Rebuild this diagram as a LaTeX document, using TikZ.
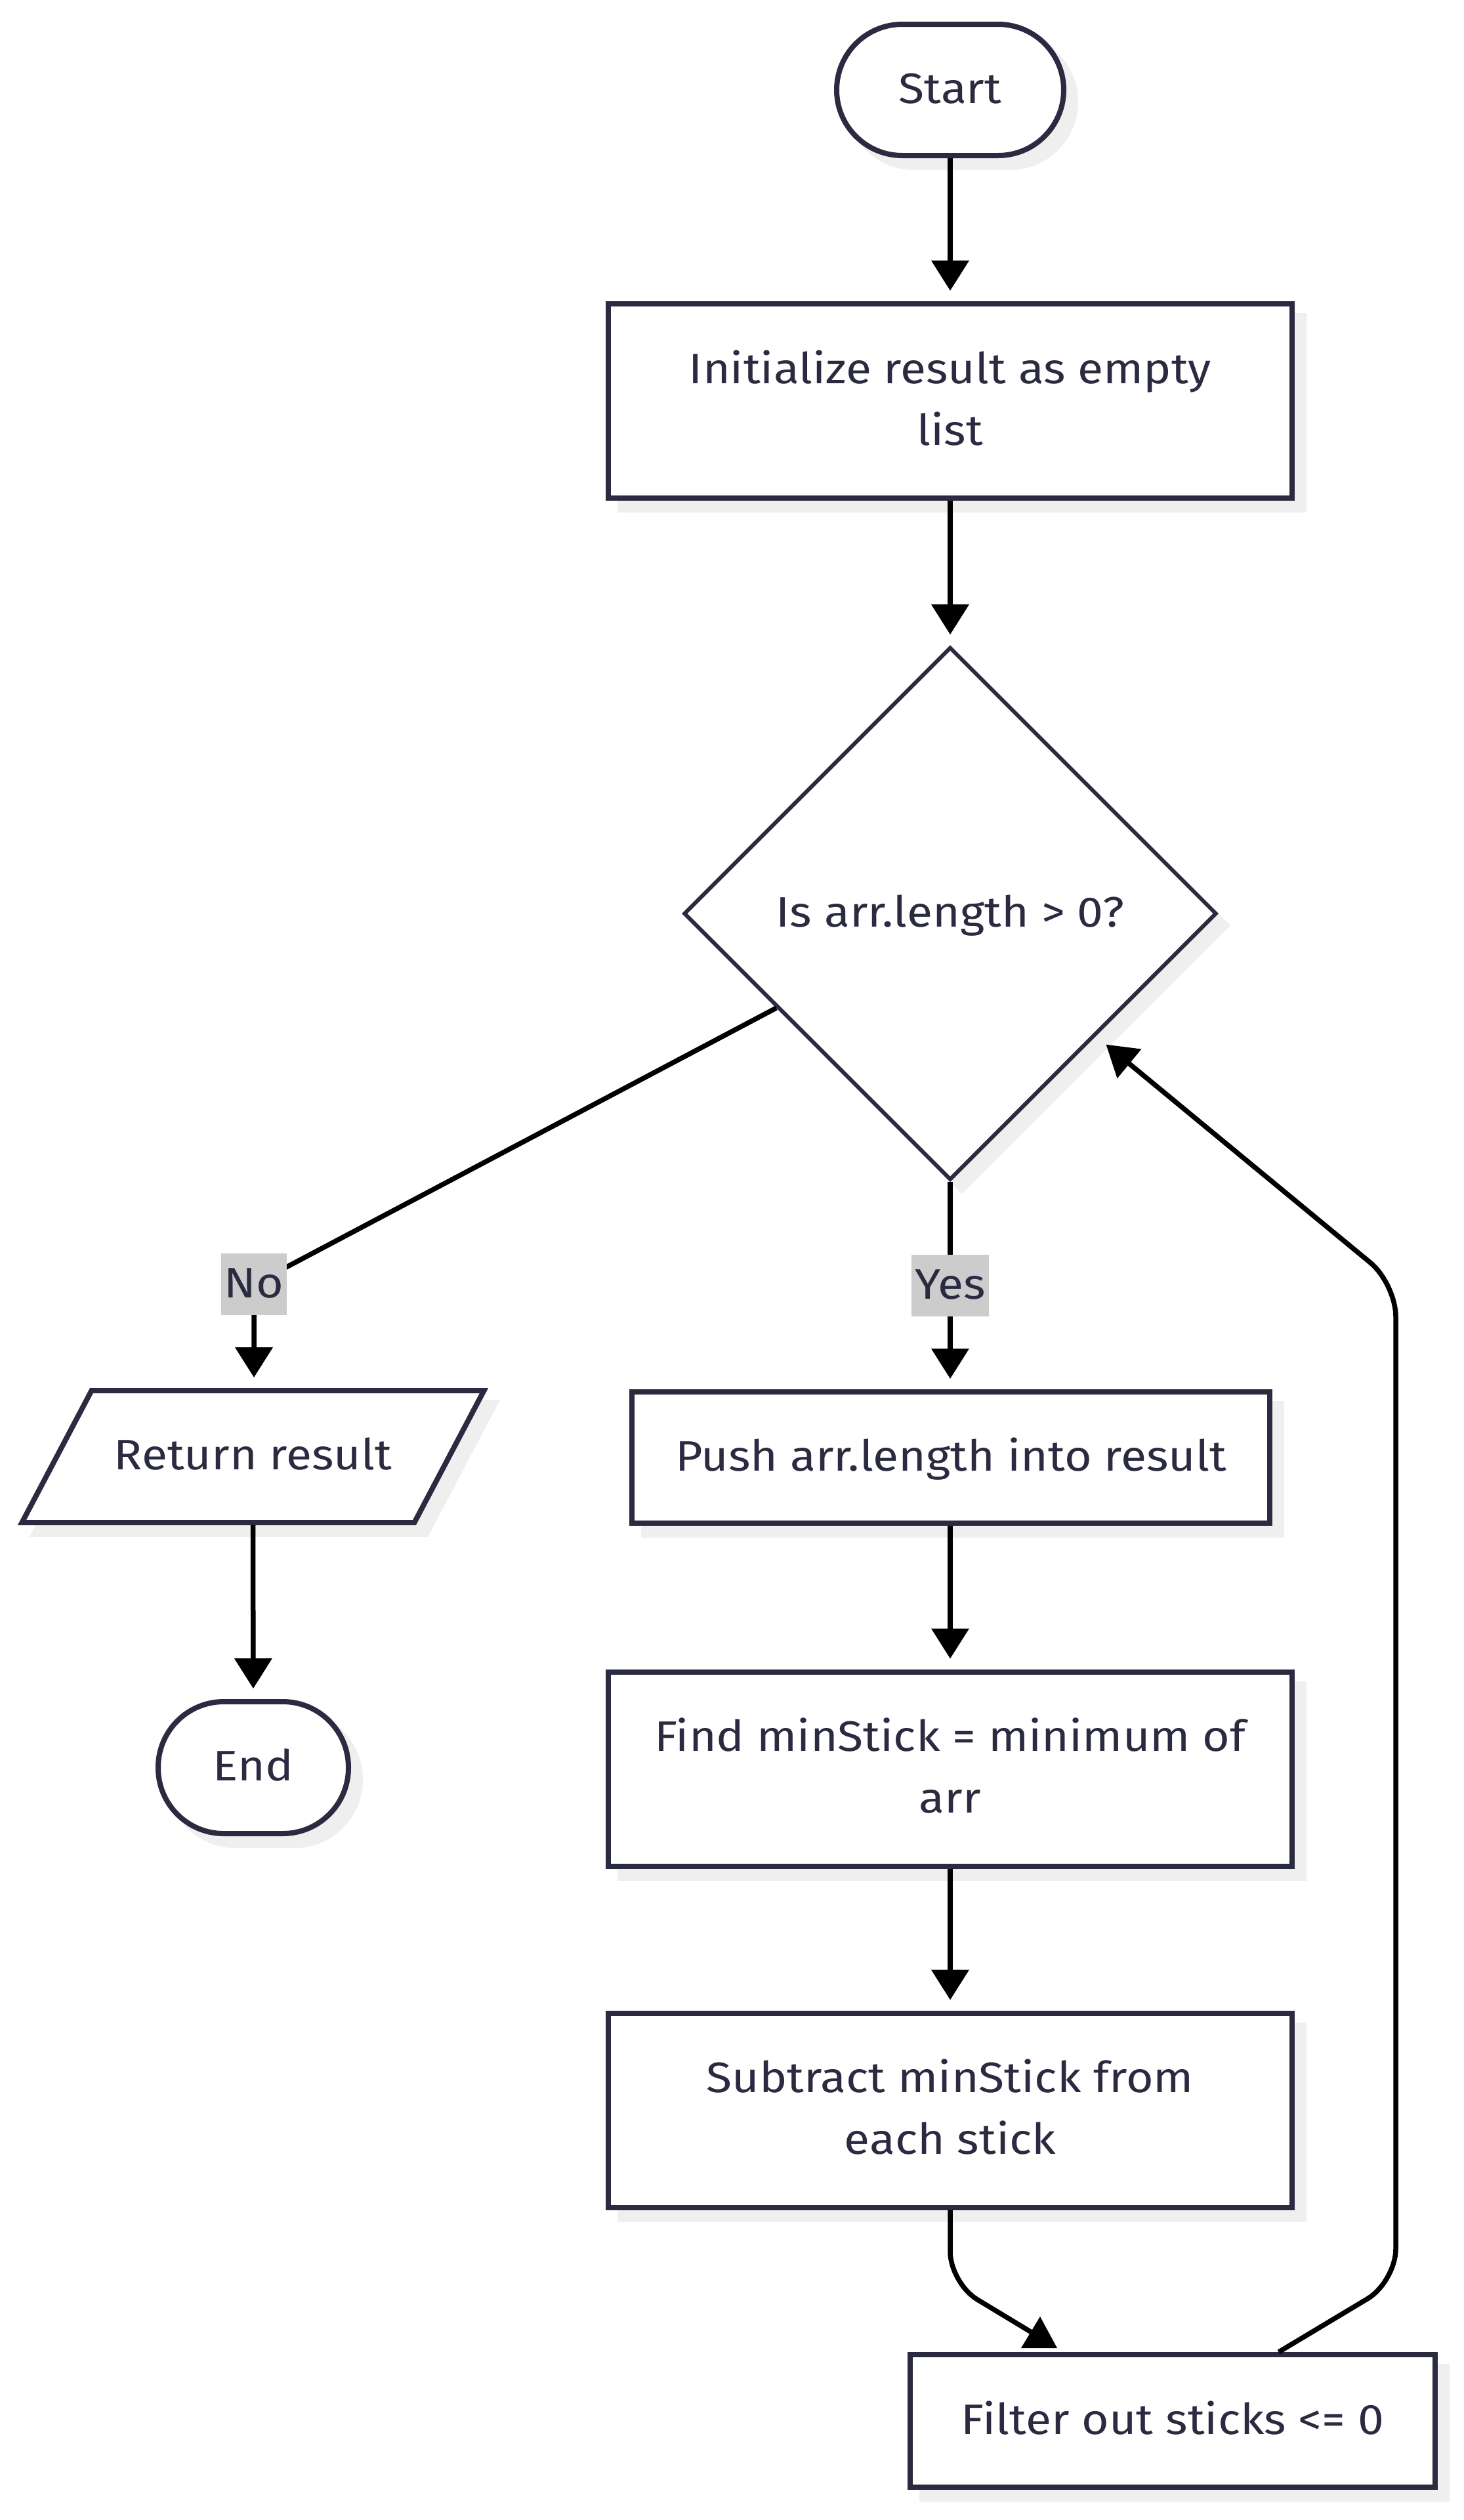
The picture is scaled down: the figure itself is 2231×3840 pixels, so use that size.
\documentclass[tikz,border=0pt]{standalone}
\usepackage{fontspec}
\setmainfont{Fira Sans}[FakeStretch=1.1]
\usetikzlibrary{arrows.meta,shapes.geometric,calc}
\definecolor{ink}{HTML}{2A2A40}
\definecolor{shadowgray}{HTML}{EFEFEF}
\definecolor{lblgray}{HTML}{CCCCCC}
\newcommand{\lnstrut}{\rule[-13.5pt]{0pt}{47pt}}
\pgfdeclarelayer{bg}
\pgfsetlayers{bg,main}
\begin{document}
\begin{tikzpicture}[x=0.5pt,y=-0.5pt,
  font=\fontsize{32.5pt}{47pt}\selectfont,
  proc/.style={draw=ink, line width=4pt, fill=white, rectangle, inner sep=0pt, align=center, text=ink},
  term/.style={proc, rounded corners=50pt},
  dia/.style={draw=ink, line width=3pt, fill=white, diamond, aspect=1, inner sep=0pt, text=ink},
  lbl/.style={fill=lblgray, inner xsep=2.5pt, inner ysep=0pt, text=ink},
  shadowfill/.style={fill=shadowgray, draw=none},
  edgeline/.style={draw=black, line width=3.75pt},
  edge/.style={edgeline, -{Triangle[length=23pt,width=28pt]}, shorten >=8pt}]
\useasboundingbox (0,0) rectangle (2231,3840);

% nodes
\node[term, minimum width=173pt, minimum height=100pt] (start) at (1448,137) {\lnstrut Start};
\node[proc, minimum width=521pt, minimum height=148pt] (init) at (1448,611) {\lnstrut Initialize result as empty\\\lnstrut list};
\node[dia, minimum width=406pt, minimum height=406pt] (dec) at (1448,1392) {\lnstrut Is arr.length > 0?};
\node[inner sep=0pt, outer sep=0pt, minimum width=300pt, minimum height=104.5pt, text=ink] (ret) at (385.5,2219.5) {\lnstrut Return result};
\node[proc, minimum width=486pt, minimum height=100pt] (push) at (1449,2221) {\lnstrut Push arr.length into result};
\node[term, minimum width=145pt, minimum height=100.5pt] (end) at (386,2693.5) {\lnstrut End};
\node[proc, minimum width=521pt, minimum height=148pt] (find) at (1448,2695.5) {\lnstrut Find minStick = minimum of\\\lnstrut arr};
\node[proc, minimum width=521pt, minimum height=148pt] (sub) at (1448,3215.5) {\lnstrut Subtract minStick from\\\lnstrut each stick};
\node[proc, minimum width=400pt, minimum height=101pt] (filt) at (1787,3689) {\lnstrut Filter out sticks <= 0};

% background layer: page, shadows, parallelogram
\begin{pgfonlayer}{bg}
\fill[white] (0,0) rectangle (2231,3840);
\path[shadowfill, rounded corners=52pt] ([shift={(18,18)}]start.north west) rectangle ([shift={(18,18)}]start.south east);
\path[shadowfill, rounded corners=52pt] ([shift={(18,18)}]end.north west) rectangle ([shift={(18,18)}]end.south east);
\foreach \n in {init,push,find,sub,filt}{
  \path[shadowfill] ([shift={(18,18)}]\n.north west) rectangle ([shift={(18,18)}]\n.south east);
}
\path[shadowfill] ([shift={(18,18)}]dec.north) -- ([shift={(18,18)}]dec.east) -- ([shift={(18,18)}]dec.south) -- ([shift={(18,18)}]dec.west) -- cycle;
\path[fill=shadowgray, draw=shadowgray, line width=4pt] ($(ret.center)+(-228,-82.5)$) -- ($(ret.center)+(370,-82.5)$) -- ($(ret.center)+(264,118.5)$) -- ($(ret.center)+(-334,118.5)$) -- cycle;
\path[draw=ink, fill=white, line width=4pt] ($(ret.center)+(-246,-100.5)$) -- ($(ret.center)+(352,-100.5)$) -- ($(ret.center)+(246,100.5)$) -- ($(ret.center)+(-352,100.5)$) -- cycle;
\end{pgfonlayer}

% edges
\draw[edge] (start) -- (init);
\draw[edge] (init) -- (dec);
\coordinate (nobend) at (387,1957);
\draw[edge] ($(dec.west)!0.352!(dec.south)$) -- (nobend) -- (nobend |- ret.north);
\draw[edge] (dec.south) -- (dec.south |- push.north) node[lbl, pos=0.5] {\lnstrut Yes};
\node[lbl] (nolbl) at (nobend) {\lnstrut No};
\draw[edge] (ret.south) -- (end.north);
\draw[edge] (find.north |- push.south) -- (find.north);
\draw[edge] (find) -- (sub);
\coordinate (sfcorner) at (1447,3479);
\coordinate (sfend) at (1572,3554);
\draw[edgeline, rounded corners=24pt] (sub.south) -- (sub.south |- sfcorner) -- (sfend);
\fill[black] (1585,3530) -- (1611,3578) -- (1556,3578) -- cycle;
\coordinate (lpb) at (2127,3477);
\coordinate (lpt) at (2127,1956);
\draw[edge, rounded corners=25pt, shorten >=10pt] ($(filt.north west)!0.70!(filt.north east)$) -- (lpb) -- (lpt) -- ($(dec.east)!0.457!(dec.south)$);
\end{tikzpicture}
\end{document}
